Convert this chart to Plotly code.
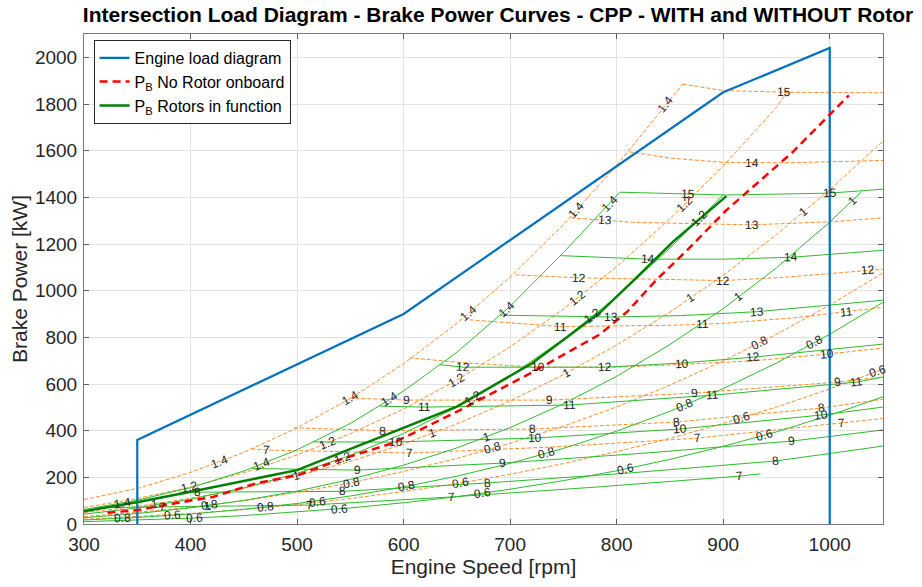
import numpy as np
import plotly.graph_objects as go

# ---------------- main curves ----------------
ENGINE_RPM = [350, 350, 600, 900, 1000, 1000]
ENGINE_KW = [0, 360, 900, 1850, 2040, 0]

NR_PB_RPM = [322, 351, 387, 421, 462, 501, 543, 590, 653, 721, 784, 810, 836, 866, 903, 965, 1018]
NR_PB_KW = [48, 60, 90, 116, 175, 210, 280, 347, 488, 651, 812, 910, 1040, 1173, 1345, 1593, 1837]

R_PB_RPM = [300, 351, 399, 500, 581, 650, 721, 784, 815, 853, 903]
R_PB_KW = [55, 94, 137, 231, 378, 503, 690, 905, 1040, 1210, 1405]

# ---------------- No rotor (orange) pitch-ratio curves ----------------
GRID_RPM = [300, 350, 400, 450, 500, 550, 600, 650, 700, 750, 800, 850, 900, 950, 1000, 1050]
NR_PD14_RPM = [300, 350, 400, 450, 500, 550, 600, 650, 700, 750, 800, 850, 862]
NR_PD14_KW = [105, 152, 221, 307, 412, 538, 687, 860, 1058, 1283, 1537, 1821, 1885]
NR_PD12_RPM = [300, 350, 400, 450, 500, 550, 600, 650, 700, 750, 800, 850, 900, 950, 960]
NR_PD12_KW = [71, 109, 158, 220, 296, 387, 493, 617, 759, 921, 1103, 1308, 1534, 1786, 1850]
NR_PD10_KW = [49, 76, 110, 153, 206, 268, 343, 429, 527, 640, 767, 908, 1066, 1240, 1432, 1641]
NR_PD08_KW = [32, 50, 72, 100, 135, 176, 225, 281, 346, 419, 502, 595, 699, 813, 938, 1076]
NR_PD06_KW = [20, 31, 45, 62, 83, 109, 139, 173, 213, 259, 310, 367, 431, 501, 579, 663]

# ---------------- No rotor (orange) ship-speed lines [kn] ----------------
NR_V7_RPM = [457, 471, 606, 740, 876, 1011, 1050]
NR_V7_KW = [322, 317, 304, 330, 368, 432, 452]
NR_V8_RPM = [497, 585, 721, 856, 992, 1050]
NR_V8_KW = [412, 400, 407, 437, 497, 535]
NR_V9_RPM = [549, 603, 737, 873, 1007, 1050]
NR_V9_KW = [540, 531, 531, 561, 608, 630]
NR_V10_RPM = [605, 660, 726, 800, 861, 930, 997, 1050]
NR_V10_KW = [712, 690, 672, 672, 684, 700, 728, 754]
NR_V11_RPM = [662, 747, 855, 900, 970, 1050]
NR_V11_KW = [875, 846, 852, 860, 885, 929]
NR_V12_RPM = [705, 765, 850, 900, 960, 1050]
NR_V12_KW = [1068, 1055, 1048, 1043, 1058, 1092]
NR_V13_RPM = [757, 815, 927, 1000, 1050]
NR_V13_KW = [1312, 1293, 1282, 1295, 1312]
NR_V14_RPM = [812, 850, 900, 960, 1050]
NR_V14_KW = [1595, 1568, 1550, 1548, 1558]
NR_V15_RPM = [862, 900, 960, 1050]
NR_V15_KW = [1885, 1858, 1850, 1848]

# ---------------- Rotors (green) pitch-ratio curves ----------------
R_PD14_RPM = [300, 350, 400, 450, 500, 550, 600, 650, 700, 750, 803]
R_PD14_KW = [62, 102, 156, 227, 318, 431, 570, 736, 933, 1163, 1422]
R_PD12_RPM = [300, 350, 400, 450, 500, 550, 600, 650, 700, 750, 800, 850, 900]
R_PD12_KW = [42, 69, 106, 155, 217, 294, 388, 501, 635, 792, 974, 1182, 1410]
R_PD10_RPM = [300, 350, 400, 450, 500, 550, 600, 650, 700, 750, 800, 850, 900, 950, 1000, 1030]
R_PD10_KW = [27, 45, 69, 101, 141, 191, 252, 326, 413, 515, 633, 769, 923, 1098, 1294, 1425]
R_PD08_KW = [17, 28, 43, 63, 88, 120, 159, 205, 260, 324, 398, 483, 580, 690, 813, 950]
R_PD06_KW = [10, 16, 25, 36, 51, 69, 91, 117, 149, 186, 228, 277, 333, 395, 466, 545]

# ---------------- Rotors (green) ship-speed lines [kn] ----------------
R_V7_RPM = [312, 374, 512, 645, 780, 915, 935]
R_V7_KW = [70, 73, 81, 116, 158, 205, 215]
R_V8_RPM = [390, 543, 679, 810, 949, 1050]
R_V8_KW = [136, 140, 176, 218, 270, 334]
R_V9_RPM = [458, 557, 693, 830, 964, 1050]
R_V9_KW = [238, 231, 261, 305, 355, 403]
R_V10_RPM = [515, 587, 723, 859, 992, 1050]
R_V10_KW = [352, 351, 368, 407, 467, 501]
R_V11_RPM = [578, 620, 756, 890, 1025, 1050]
R_V11_KW = [505, 501, 510, 552, 608, 630]
R_V12_RPM = [634, 656, 789, 861, 928, 1050]
R_V12_KW = [683, 672, 672, 690, 715, 771]
R_V13_RPM = [691, 795, 860, 932, 1050]
R_V13_KW = [895, 887, 893, 910, 959]
R_V14_RPM = [748, 829, 900, 964, 1050]
R_V14_KW = [1150, 1135, 1135, 1143, 1173]
R_V15_RPM = [803, 867, 903, 1000, 1050]
R_V15_KW = [1422, 1415, 1410, 1418, 1435]

# ---------------- contour label positions (rpm along each line) ----------------
NR_LABELS = [
    ("1.4", [427, 550, 661, 762, 846]),
    ("1.2", [399, 529, 650, 763, 864]),
    ("1", [366, 499, 627, 753, 869, 975]),
    ("0.8", [418, 551, 683, 934]),
    ("0.6", [383, 519, 653, 917, 1045]),
    ("7", [471, 606, 876, 1011]),
    ("8", [580, 721, 856, 992]),
    ("9", [603, 737, 873, 1007]),
    ("10", [726, 861, 997]),
    ("11", [747, 881, 1016]),
    ("12", [765, 900, 1036]),
    ("13", [789, 927]),
    ("14", [927]),
    ("15", [957]),
]
R_LABELS = [
    ("1.4", [336, 467, 587, 697, 793]),
    ("1.2", [543, 665, 777, 878]),
    ("1", [416, 678, 914, 1021]),
    ("0.8", [336, 470, 603, 734, 864, 986]),
    ("0.6", [404, 540, 674, 808, 939]),
    ("7", [374, 512, 645, 915]),
    ("8", [407, 543, 679, 949]),
    ("9", [557, 693, 964]),
    ("10", [593, 723, 859, 992]),
    ("11", [620, 756, 890, 1025]),
    ("12", [656, 789, 928]),
    ("13", [795, 932]),
    ("14", [829, 964]),
    ("15", [867, 1000]),
]

NR_LINES = {
    "1.4": (NR_PD14_RPM, NR_PD14_KW), "1.2": (NR_PD12_RPM, NR_PD12_KW),
    "1": (GRID_RPM, NR_PD10_KW), "0.8": (GRID_RPM, NR_PD08_KW), "0.6": (GRID_RPM, NR_PD06_KW),
    "7": (NR_V7_RPM, NR_V7_KW), "8": (NR_V8_RPM, NR_V8_KW), "9": (NR_V9_RPM, NR_V9_KW),
    "10": (NR_V10_RPM, NR_V10_KW), "11": (NR_V11_RPM, NR_V11_KW), "12": (NR_V12_RPM, NR_V12_KW),
    "13": (NR_V13_RPM, NR_V13_KW), "14": (NR_V14_RPM, NR_V14_KW), "15": (NR_V15_RPM, NR_V15_KW),
}
R_LINES = {
    "1.4": (R_PD14_RPM, R_PD14_KW), "1.2": (R_PD12_RPM, R_PD12_KW),
    "1": (R_PD10_RPM, R_PD10_KW), "0.8": (GRID_RPM, R_PD08_KW), "0.6": (GRID_RPM, R_PD06_KW),
    "7": (R_V7_RPM, R_V7_KW), "8": (R_V8_RPM, R_V8_KW), "9": (R_V9_RPM, R_V9_KW),
    "10": (R_V10_RPM, R_V10_KW), "11": (R_V11_RPM, R_V11_KW), "12": (R_V12_RPM, R_V12_KW),
    "13": (R_V13_RPM, R_V13_KW), "14": (R_V14_RPM, R_V14_KW), "15": (R_V15_RPM, R_V15_KW),
}

# ---------------- layout geometry ----------------
W, H = 922, 587
ML, MR, MT, MB = 84, 39, 34, 63
XR = [300, 1050]
YR = [0, 2100]
PX_PER_RPM = (W - ML - MR) / (XR[1] - XR[0])
PX_PER_KW = (H - MT - MB) / (YR[1] - YR[0])

ORANGE = "#FF8C2A"
GREEN_THIN = "#2EBB2E"
FONT = "Liberation Sans, Arial, sans-serif"

fig = go.Figure()

for key, (xs, ys) in NR_LINES.items():
    fig.add_trace(go.Scatter(x=xs, y=ys, mode="lines", showlegend=False, hoverinfo="skip",
                             line=dict(color=ORANGE, width=1, dash="4px,2px")))
for key, (xs, ys) in R_LINES.items():
    fig.add_trace(go.Scatter(x=xs, y=ys, mode="lines", showlegend=False, hoverinfo="skip",
                             line=dict(color=GREEN_THIN, width=1)))

fig.add_trace(go.Scatter(x=ENGINE_RPM, y=ENGINE_KW, mode="lines", name="Engine load diagram",
                         line=dict(color="#0072BD", width=2.2)))
fig.add_trace(go.Scatter(x=NR_PB_RPM, y=NR_PB_KW, mode="lines", name="P<sub>B</sub> No Rotor onboard",
                         line=dict(color="#FF0000", width=2.5, dash="8px,5px")))
fig.add_trace(go.Scatter(x=R_PB_RPM, y=R_PB_KW, mode="lines", name="P<sub>B</sub> Rotors in function",
                         line=dict(color="#008000", width=2.5)))


def add_labels(labels, lines):
    for text, positions in labels:
        xs, ys = lines[text]
        for x0 in positions:
            y0 = float(np.interp(x0, xs, ys))
            d = 6.0
            y1 = np.interp(x0 - d, xs, ys)
            y2 = np.interp(x0 + d, xs, ys)
            ang = np.degrees(np.arctan2((y2 - y1) * PX_PER_KW, 2 * d * PX_PER_RPM))
            fig.add_annotation(x=x0, y=y0, text=text, showarrow=False, textangle=-ang,
                               font=dict(size=12, color="#262626", family=FONT),
                               xanchor="center", yanchor="middle")


add_labels(NR_LABELS, NR_LINES)
add_labels(R_LABELS, R_LINES)

axis_common = dict(showgrid=True, gridcolor="#E3E3E3", gridwidth=1, showline=True,
                   linecolor="#7A7A7A", linewidth=1, mirror="ticks", ticks="inside",
                   ticklen=5, tickcolor="#5A5A5A", zeroline=False,
                   tickfont=dict(size=19, color="#262626"))

fig.update_layout(
    width=W, height=H,
    margin=dict(l=ML, r=MR, t=MT, b=MB),
    paper_bgcolor="white", plot_bgcolor="white",
    font=dict(family=FONT, color="#262626"),
    title=dict(text="<b>Intersection Load Diagram - Brake Power Curves - CPP - WITH and WITHOUT Rotor</b>",
               x=498 / W, xref="container", xanchor="center", y=1 - 15 / H, yref="container",
               yanchor="middle", font=dict(size=21, color="#000000")),
    xaxis=dict(range=XR, dtick=100, tick0=300, ticklabelstandoff=3,
               title=dict(text="Engine Speed [rpm]", font=dict(size=21, color="#262626"), standoff=4),
               **axis_common),
    yaxis=dict(range=YR, dtick=200, tick0=0, ticklabelstandoff=2,
               title=dict(text="Brake Power [kW]", font=dict(size=21, color="#262626"), standoff=1),
               **axis_common),
    legend=dict(x=0.012, y=0.988, xanchor="left", yanchor="top", bgcolor="white",
                bordercolor="#262626", borderwidth=1, font=dict(size=16, color="#000000"),
                tracegroupgap=0, itemwidth=30),
)

fig.write_html("out.html")
